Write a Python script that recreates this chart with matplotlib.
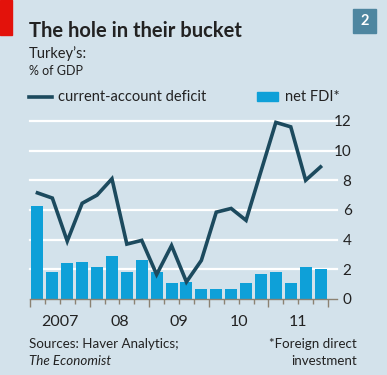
import matplotlib.pyplot as plt
import matplotlib.patches as mpatches
import numpy as np

# quarterly data, 2007Q1 - 2011Q4, % of GDP
quarters = ['2007Q1', '2007Q2', '2007Q3', '2007Q4', '2008Q1', '2008Q2', '2008Q3', '2008Q4',
            '2009Q1', '2009Q2', '2009Q3', '2009Q4', '2010Q1', '2010Q2', '2010Q3', '2010Q4',
            '2011Q1', '2011Q2', '2011Q3', '2011Q4']
ca_deficit = [7.15, 6.8, 3.9, 6.45, 7.0, 8.1, 3.7, 3.95, 1.65, 3.6, 1.15, 2.6,
              5.85, 6.1, 5.3, 8.6, 11.9, 11.6, 8.0, 8.9]
net_fdi = [6.25, 1.8, 2.4, 2.5, 2.15, 2.9, 1.8, 2.6, 1.85, 1.1, 1.15, 0.65,
           0.7, 0.65, 1.05, 1.7, 1.8, 1.1, 2.15, 2.0]
year_labels = ['2007', '08', '09', '10', '11']
y_ticks = [0, 2, 4, 6, 8, 10, 12]

bg = '#d3e2eb'
bar_col = '#0ea0d8'
line_col = '#1c4a5e'
txt = '#222222'
axis_col = '#8c8272'

plt.rcParams['font.family'] = ['Lato', 'DejaVu Sans']

fig = plt.figure(figsize=(3.87, 3.75), dpi=100, facecolor=bg)
ax = fig.add_axes([30/387, 1 - 299/375, 298/387, (299 - 112)/375])
ax.set_facecolor(bg)

x = np.arange(len(quarters))
for yv in y_ticks[1:]:
    ax.axhline(yv, xmin=0, xmax=1.03, color='white', lw=1.6, clip_on=False, zorder=0)
ax.axhline(0, xmin=0, xmax=1.03, color=axis_col, lw=1.0, clip_on=False, zorder=3)

ax.bar(x, net_fdi, width=0.8, color=bar_col, zorder=1)
ax.plot(x, ca_deficit, color=line_col, lw=2.6, zorder=2, solid_joinstyle='miter')

ax.set_xlim(-0.5, len(quarters) - 0.5)
ax.set_ylim(0, 12.6)
for s in ax.spines.values():
    s.set_visible(False)

ax.yaxis.tick_right()
ax.set_yticks(y_ticks)
ax.set_yticklabels([str(v) for v in y_ticks], fontsize=11, color=txt, ha='right')
ax.tick_params(axis='y', length=0, pad=17)

# quarter ticks, longer ones at year boundaries
ax.set_xticks(np.arange(-0.5, len(quarters), 4))
ax.set_xticklabels([])
ax.set_xticks(np.arange(-0.5, len(quarters), 1), minor=True)
ax.tick_params(axis='x', which='major', length=6, width=1, color=axis_col)
ax.tick_params(axis='x', which='minor', length=3.5, width=1, color=axis_col)
for i, lab in enumerate(year_labels):
    ax.text(1.5 + 4 * i, -1.1, lab, ha='center', va='top', fontsize=11.5, color=txt)

# header
fig.patches.append(mpatches.Rectangle((0, 1 - 35/375), 12/387, 35/375,
                                      transform=fig.transFigure, color='#e3120b'))
fig.patches.append(mpatches.Rectangle((353/387, 1 - 33/375), 23/387, 24/375,
                                      transform=fig.transFigure, color='#4e86a0'))
fig.text(364.5/387, 1 - 21/375, '2', ha='center', va='center', fontsize=10.5,
         fontweight='bold', color='white')
fig.text(29/387, 1 - 37/375, 'The hole in their bucket', fontsize=14.5,
         fontweight='bold', color=txt, va='baseline')
fig.text(29/387, 1 - 58/375, 'Turkey\u2019s:', fontsize=10.5, color=txt, va='baseline')
fig.text(29/387, 1 - 75/375, '% of GDP', fontsize=9, color=txt, va='baseline')

# legend
fig.lines.append(plt.Line2D([29/387, 52/387], [1 - 97/375] * 2, transform=fig.transFigure,
                            color=line_col, lw=2.6))
fig.text(58/387, 1 - 97/375, 'current-account deficit', fontsize=10.5, color=txt, va='center')
fig.patches.append(mpatches.Rectangle((257/387, 1 - 101/375), 21/387, 9/375,
                                      transform=fig.transFigure, color=bar_col))
fig.text(285/387, 1 - 97/375, 'net FDI*', fontsize=10.5, color=txt, va='center')

# footer
fig.text(29/387, 1 - 348/375, 'Sources: Haver Analytics;', fontsize=9.6, color=txt, va='baseline')
fig.text(29/387, 1 - 365/375, 'The Economist', fontsize=9.6, color=txt, va='baseline',
         style='italic')
fig.text(357/387, 1 - 348/375, '*Foreign direct', fontsize=9.6, color=txt, va='baseline',
         ha='right')
fig.text(357/387, 1 - 365/375, 'investment', fontsize=9.6, color=txt, va='baseline', ha='right')

fig.savefig('out.png', dpi=100, facecolor=bg)
